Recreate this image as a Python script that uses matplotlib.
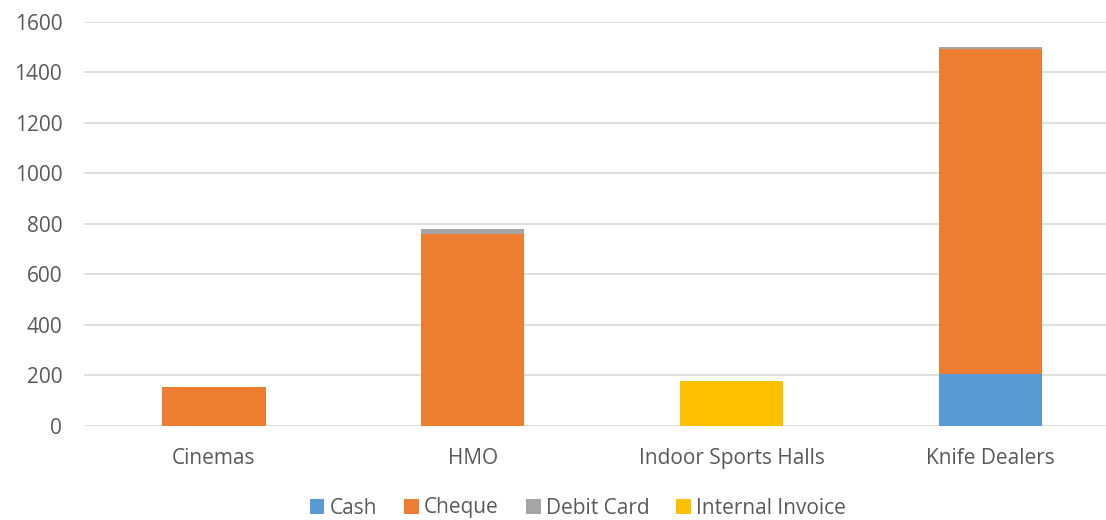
import numpy as np
import matplotlib.pyplot as plt

plt.rcParams['font.family'] = ['Open Sans', 'DejaVu Sans']

categories = ['Cinemas', 'HMO', 'Indoor Sports Halls', 'Knife Dealers']
cash = [0, 0, 0, 207]
cheque = [156, 762, 0, 1285]
debit_card = [0, 19, 0, 9]
internal_invoice = [0, 0, 178, 0]

series = [
    ('Cash', cash, '#5b9bd5'),
    ('Cheque', cheque, '#ed7d31'),
    ('Debit Card', debit_card, '#a5a5a5'),
    ('Internal Invoice', internal_invoice, '#ffc000'),
]

fig = plt.figure(figsize=(11.06, 5.2), dpi=100)
ax = fig.add_axes([0.0764, 0.1808, 0.936, 0.7769])

x = np.arange(len(categories))
bottom = np.zeros(len(categories))
for name, vals, color in series:
    vals = np.array(vals, dtype=float)
    ax.bar(x, vals, width=0.4, bottom=bottom, color=color, label=name, zorder=2)
    bottom += vals

ax.set_xlim(-0.5, len(categories) - 0.5)
ax.set_ylim(0, 1600)
ax.set_yticks(range(0, 1601, 200))
ax.set_xticks(x)
ax.set_xticklabels(categories)
ax.yaxis.grid(True, color='#d9d9d9', linewidth=1.2, zorder=0)
ax.set_axisbelow(True)
for s in ax.spines.values():
    s.set_visible(False)
ax.tick_params(axis='both', length=0, labelsize=15, colors='#595959')
ax.tick_params(axis='x', pad=16)
ax.tick_params(axis='y', pad=16)

# legend sits along the bottom edge, kept just inside the canvas
fig.legend(loc='center', bbox_to_anchor=(578 / 1106, 1 - 508 / 520), ncol=4,
           frameon=False, fontsize=15, handlelength=0.7, handleheight=0.7,
           handletextpad=0.25, columnspacing=1.3, labelcolor='#595959')

fig.savefig('out.png', dpi=100)
